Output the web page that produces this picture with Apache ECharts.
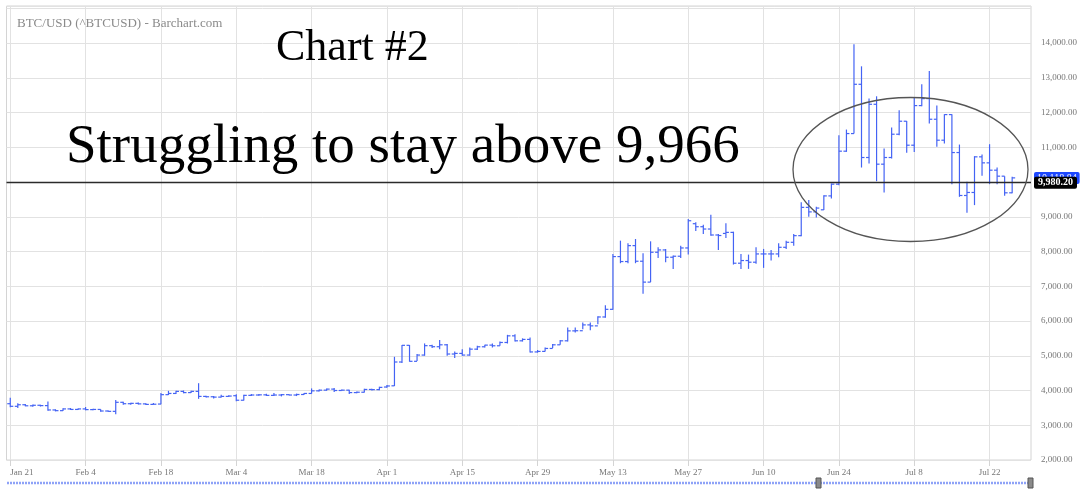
<!DOCTYPE html>
<html>
<head>
<meta charset="utf-8">
<script src="https://cdn.jsdelivr.net/npm/echarts@6/dist/echarts.min.js"></script>
<style>
html,body{margin:0;padding:0;background:#fff;}
#chart{width:1080px;height:493px;}
</style>
</head>
<body>
<div id="chart"></div>
<script>
// Weekday sessions (two empty slots at the right edge)
const categories = [
  'Jan 21','Jan 22','Jan 23','Jan 24','Jan 25',
  'Jan 28','Jan 29','Jan 30','Jan 31','Feb 1',
  'Feb 4','Feb 5','Feb 6','Feb 7','Feb 8',
  'Feb 11','Feb 12','Feb 13','Feb 14','Feb 15',
  'Feb 18','Feb 19','Feb 20','Feb 21','Feb 22',
  'Feb 25','Feb 26','Feb 27','Feb 28','Mar 1',
  'Mar 4','Mar 5','Mar 6','Mar 7','Mar 8',
  'Mar 11','Mar 12','Mar 13','Mar 14','Mar 15',
  'Mar 18','Mar 19','Mar 20','Mar 21','Mar 22',
  'Mar 25','Mar 26','Mar 27','Mar 28','Mar 29',
  'Apr 1','Apr 2','Apr 3','Apr 4','Apr 5',
  'Apr 8','Apr 9','Apr 10','Apr 11','Apr 12',
  'Apr 15','Apr 16','Apr 17','Apr 18','Apr 19',
  'Apr 22','Apr 23','Apr 24','Apr 25','Apr 26',
  'Apr 29','Apr 30','May 1','May 2','May 3',
  'May 6','May 7','May 8','May 9','May 10',
  'May 13','May 14','May 15','May 16','May 17',
  'May 20','May 21','May 22','May 23','May 24',
  'May 27','May 28','May 29','May 30','May 31',
  'Jun 3','Jun 4','Jun 5','Jun 6','Jun 7',
  'Jun 10','Jun 11','Jun 12','Jun 13','Jun 14',
  'Jun 17','Jun 18','Jun 19','Jun 20','Jun 21',
  'Jun 24','Jun 25','Jun 26','Jun 27','Jun 28',
  'Jul 1','Jul 2','Jul 3','Jul 4','Jul 5',
  'Jul 8','Jul 9','Jul 10','Jul 11','Jul 12',
  'Jul 15','Jul 16','Jul 17','Jul 18','Jul 19',
  'Jul 22','Jul 23','Jul 24','Jul 25','Jul 26','Jul 29'
];

const open = [
  3620,3545,3590,3560,3575, 3565,3440,3420,3470,3455, 3470,3450,3455,3410,3400,
  3660,3620,3630,3615,3600, 3610,3880,3915,3975,3940, 3975,3830,3820,3810,3830,
  3850,3720,3860,3870,3875, 3860,3870,3880,3870,3885, 3915,3990,4010,4040,4000,
  4010,3940,3950,4030,4025, 4100,4135,4820,5300,4840, 5020,5290,5260,5315,5050,
  5067,5020,5190,5258,5306, 5287,5382,5573,5430,5470, 5110,5125,5210,5315,5430,
  5716,5720,5888,5860,6116, 6336,7854,7711,8169,7720, 7119,7978,8045,7835,7864,
  8102,8800,8713,8647,8475, 8520,8550,7663,7740,7692, 7930,7930,7930,8121,8265,
  8456,9270,9140,9200,9600, 9938,10887,11394,12812,10705, 12237,10513,10705,11375,11749,
  11059,12199,12400,11806,11203, 11940,10848,9612,9699,10724, 10551,10340,10168,9689
];
const high = [
  3790,3630,3610,3595,3590, 3680,3460,3490,3495,3485, 3525,3475,3460,3425,3730,
  3675,3650,3655,3630,3640, 3925,3990,3995,4000,3990, 4210,3850,3845,3880,3860,
  3890,3880,3900,3900,3910, 3925,3900,3895,3910,3930, 4060,4030,4060,4070,4030,
  4020,3970,4050,4050,4110, 4160,4970,5310,5310,5050, 5355,5315,5450,5335,5125,
  5190,5240,5287,5315,5353, 5411,5602,5621,5500,5525, 5165,5240,5335,5450,5812,
  5815,5955,5955,6135,6450, 7930,8312,8236,8360,7950, 8293,8121,8074,7883,8169,
  8933,8840,8771,9057,8503, 8810,8570,7930,7911,8121, 8074,8045,8236,8312,8503,
  9420,9480,9290,9622,9957, 11346,11509,13962,13329,12400, 12467,10963,11567,12065,11758,
  12429,12812,13195,12199,11950, 11950,11078,10005,10743,10791, 11088,10417,10168,10149
];
const low = [
  3520,3495,3545,3535,3540, 3420,3400,3410,3440,3440, 3430,3430,3390,3390,3320,
  3590,3590,3600,3580,3590, 3605,3870,3900,3920,3930, 3760,3800,3770,3800,3815,
  3690,3710,3840,3850,3840, 3840,3830,3860,3840,3875, 3910,3970,3990,3960,3990,
  3900,3920,3940,4000,4010, 4080,4130,4790,4830,4850, 5000,5220,5190,5000,4935,
  5000,5000,5162,5239,5239, 5287,5353,5411,5410,5096, 5090,5124,5220,5315,5411,
  5670,5764,5735,5906,6097, 6326,7663,7663,7663,6784, 7119,7816,7692,7500,7816,
  7911,8590,8503,8456,8045, 8390,7625,7500,7500,7644, 7529,7740,7835,8074,8169,
  8440,9000,8980,9191,9526, 9909,10867,11394,10417,10532, 10024,9699,10676,11346,10839,
  10867,12180,11682,11011,11107, 9938,9574,9114,9335,10178, 9938,9938,9603,9680
];
const close = [
  3545,3590,3560,3575,3565, 3440,3420,3470,3455,3470, 3450,3455,3410,3400,3660,
  3620,3630,3615,3600,3605, 3880,3915,3975,3940,3975, 3830,3820,3810,3830,3840,
  3720,3860,3870,3875,3860, 3870,3880,3870,3885,3915, 3990,4010,4040,4000,4010,
  3940,3950,4030,4025,4090, 4130,4820,5300,4840,5020, 5290,5260,5315,5050,5067,
  5020,5190,5258,5306,5287, 5382,5573,5430,5470,5110, 5125,5210,5315,5430,5716,
  5720,5888,5860,6116,6336, 7854,7711,8169,7720,7119, 7978,8045,7835,7864,8102,
  8885,8713,8647,8475,8460, 8550,7663,7740,7692,7930, 7930,7930,8121,8265,8456,
  9270,9140,9250,9600,9938, 10887,11394,12812,10705,12237, 10513,10705,11375,11749,11059,
  12199,12400,11806,11203,11940, 10848,9612,9699,10724,10551, 10340,10168,9689,10118.84
];

const tickLabels = ['Jan 21','Feb 4','Feb 18','Mar 4','Mar 18','Apr 1','Apr 15','Apr 29',
  'May 13','May 27','Jun 10','Jun 24','Jul 8','Jul 22'];
const yTicks = [2000,3000,4000,5000,6000,7000,8000,9000,10000,11000,12000,13000,14000];
const lineLevel = 9980.20;
const lastPrice = 10118.84;

const SERIF = '"Liberation Serif", "Times New Roman", serif';
const BAR = '#4463f4';
const tickSet = new Set(tickLabels);
function fmt(v){
  const s = Number(v).toFixed(2).split('.');
  return s[0].replace(/\B(?=(\d{3})+(?!\d))/g, ',') + '.' + s[1];
}

const ohlc = open.map((o, i) => [i, o, high[i], low[i], close[i]]);

function seg(x1, y1, x2, y2) {
  return {type: 'line', shape: {x1: x1, y1: y1, x2: x2, y2: y2},
    style: {stroke: BAR, fill: null, lineWidth: 1.2}};
}

const chart = echarts.init(document.getElementById('chart'), null, {renderer:'canvas'});
chart.setOption({
  animation: false,
  backgroundColor: '#ffffff',
  grid: {left: 6.5, right: 48.3, top: 6, bottom: 33, show: true, borderColor: '#d4d4d4', borderWidth: 1, backgroundColor: 'transparent'},
  xAxis: {
    type: 'category', data: categories, boundaryGap: true,
    axisLine: {show: false},
    axisTick: {show: true, alignWithLabel: true, length: 6, interval: (i, v) => tickSet.has(v), lineStyle: {color: '#d4d4d4'}},
    axisLabel: {interval: (i, v) => tickSet.has(v), margin: 8, fontFamily: SERIF, fontSize: 9, color: '#777', alignMinLabel: 'left'},
    splitLine: {show: false}
  },
  yAxis: {
    type: 'value', position: 'right', min: 2000, max: 15065, interval: 1000, scale: false,
    axisLine: {show: false}, axisTick: {show: false},
    axisLabel: {margin: 10, fontFamily: SERIF, fontSize: 9, color: '#777',
      formatter: v => (yTicks.indexOf(v) >= 0 ? fmt(v) : '')},
    splitLine: {lineStyle: {color: '#e2e2e2', width: 1}}
  },
  series: [
    {
      type: 'line', data: [], silent: true, z: 0,
      markLine: {
        z: 0,
        symbol: 'none', silent: true, animation: false,
        label: {show: false},
        lineStyle: {color: '#e2e2e2', type: 'solid', width: 1},
        data: tickLabels.map(t => ({xAxis: t}))
      }
    },
    {
      type: 'custom', z: 3, silent: true,
      data: ohlc,
      encode: {x: 0, y: [1, 2, 3, 4]},
      itemStyle: {color: BAR},
      renderItem: function (params, api) {
        const i = api.value(0);
        const o = api.coord([i, api.value(1)]);
        const h = api.coord([i, api.value(2)]);
        const l = api.coord([i, api.value(3)]);
        const c = api.coord([i, api.value(4)]);
        const x = h[0];
        const t = 3;
        return {type: 'group', children: [
          seg(x, h[1], x, l[1]),
          seg(x - t, o[1], x, o[1]),
          seg(x, c[1], x + t, c[1])
        ]};
      }
    },
    {
      type: 'line', data: [], silent: true, z: 6,
      markLine: {
        z: 6,
        symbol: 'none', silent: true, animation: false,
        data: [
          {yAxis: lastPrice, lineStyle: {color: 'rgba(0,0,0,0)', width: 0},
            label: {show: true, position: 'end', distance: 3, formatter: fmt(lastPrice),
              backgroundColor: '#1d48ff', color: '#fff', fontFamily: SERIF, fontSize: 10,
              padding: [1, 3], borderRadius: 2}},
          {yAxis: lineLevel, lineStyle: {color: '#2b2b2b', width: 1.4, type: 'solid'},
            label: {show: true, position: 'end', distance: 3, formatter: fmt(lineLevel),
              backgroundColor: '#000', color: '#fff', fontFamily: SERIF, fontSize: 10, fontWeight: 'bold',
              padding: [1, 4], borderRadius: 2}}
        ]
      }
    }
  ],
  graphic: [
    {type: 'text', x: 17, y: 23.3, z: 100, silent: true, style: {text: 'BTC/USD (^BTCUSD) - Barchart.com', font: '13px ' + SERIF, fill: '#8a8a8a', textVerticalAlign: 'middle', verticalAlign: 'middle'}},
    {type: 'text', x: 276, y: 48.5, z: 100, silent: true, style: {text: 'Chart #2', font: '44px ' + SERIF, fill: '#000', textVerticalAlign: 'middle', verticalAlign: 'middle'}},
    {type: 'text', x: 66, y: 147.5, z: 100, silent: true, style: {text: 'Struggling to stay above 9,966', font: '55px ' + SERIF, fill: '#000', textVerticalAlign: 'middle', verticalAlign: 'middle'}},
    {type: 'ellipse', silent: true, z: 100, shape: {cx: 910.5, cy: 169.5, rx: 117.5, ry: 72}, style: {fill: 'none', stroke: '#555', lineWidth: 1.3}},
    {type: 'line', silent: true, z: 100, shape: {x1: 7, y1: 483, x2: 1031, y2: 483}, style: {stroke: '#8ea2f7', lineWidth: 2.5, lineDash: [2, 1]}},
    {type: 'rect', silent: true, z: 101, shape: {x: 816, y: 478, width: 5, height: 10}, style: {fill: '#8a8a8a', stroke: '#555', lineWidth: 1}},
    {type: 'rect', silent: true, z: 101, shape: {x: 1028, y: 478, width: 5, height: 10}, style: {fill: '#8a8a8a', stroke: '#555', lineWidth: 1}}
  ]
});
</script>
</body>
</html>
